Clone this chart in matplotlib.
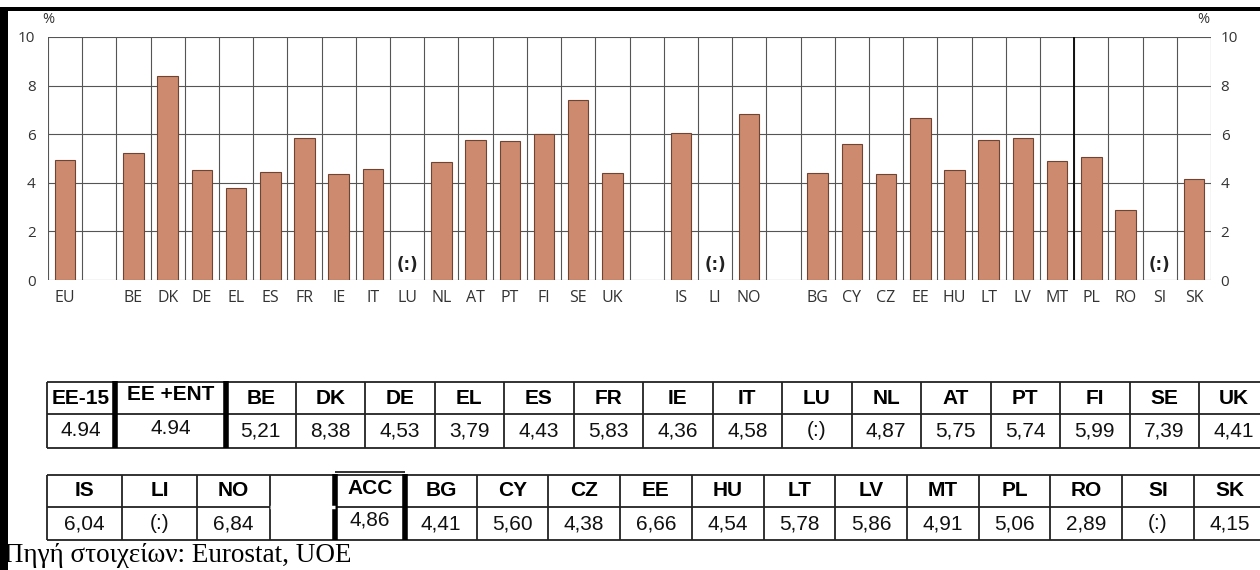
import numpy as np
import matplotlib
matplotlib.use("Agg")
import matplotlib.pyplot as plt

# chart slots ('' = empty slot)
slots = ["EU", "", "BE", "DK", "DE", "EL", "ES", "FR", "IE", "IT", "LU", "NL", "AT", "PT", "FI", "SE", "UK",
         "", "IS", "LI", "NO", "",
         "BG", "CY", "CZ", "EE", "HU", "LT", "LV", "MT", "PL", "RO", "SI", "SK"]
# None = not available (:)
slot_values = [4.94, None, 5.21, 8.38, 4.53, 3.79, 4.43, 5.83, 4.36, 4.58, None, 4.87, 5.75, 5.74, 5.99, 7.39, 4.41,
               None, 6.04, None, 6.84, None,
               4.41, 5.60, 4.38, 6.66, 4.54, 5.78, 5.86, 4.91, 5.06, 2.89, None, 4.15]
missing = ["LU", "LI", "SI"]

# tables
table1_head = ["EE-15", "EE +ENT", "BE", "DK", "DE", "EL", "ES", "FR", "IE", "IT", "LU", "NL", "AT", "PT", "FI", "SE", "UK"]
table1_vals = ["4.94", "4.94", "5,21", "8,38", "4,53", "3,79", "4,43", "5,83", "4,36", "4,58", "(:)", "4,87",
               "5,75", "5,74", "5,99", "7,39", "4,41"]
table2_head = ["IS", "LI", "NO", "", "ACC", "BG", "CY", "CZ", "EE", "HU", "LT", "LV", "MT", "PL", "RO", "SI", "SK"]
table2_vals = ["6,04", "(:)", "6,84", "", "4,86", "4,41", "5,60", "4,38", "6,66", "4,54", "5,78", "5,86",
               "4,91", "5,06", "2,89", "(:)", "4,15"]

W, H = 1260, 570
fig = plt.figure(figsize=(12.6, 5.7), dpi=100)

# ---- bar chart ----
x0, x1, y0, y1 = 48, 1211, 37, 280
ax = fig.add_axes([x0 / W, 1 - y1 / H, (x1 - x0) / W, (y1 - y0) / H])
n = len(slots)
xs = np.arange(n) + 0.5
heights = [v if v is not None else 0 for v in slot_values]
mask = [v is not None for v in slot_values]
ax.bar(xs[mask], np.array(heights)[mask], width=0.6, color="#CD8A6E", edgecolor="#6e4535", linewidth=0.8, zorder=3)

for i in range(n + 1):
    ax.axvline(i, color="#555555", lw=0.8, zorder=1)
ax.axvline(30, color="#111111", lw=1.4, zorder=2)
for yv in range(0, 11, 2):
    ax.axhline(yv, color="#555555", lw=0.8, zorder=1)

for i, lab in enumerate(slots):
    if lab in missing:
        ax.text(i + 0.5, 0.6, "(:)", ha="center", va="center", fontsize=12, fontweight="bold", color="#222222")

ax.set_xlim(0, n)
ax.set_ylim(0, 10)
ax.set_xticks(xs)
ax.set_xticklabels(slots, fontsize=11.5, color="#333333", family="Open Sans")
ax.set_yticks(range(0, 11, 2))
ax.set_yticklabels([str(v) for v in range(0, 11, 2)], fontsize=11, color="#333333", family="Open Sans")
ax.tick_params(axis="both", length=0)
ax.tick_params(axis="x", pad=7)
ax.tick_params(axis="y", pad=9)
for s in ax.spines.values():
    s.set_visible(False)

axr = ax.twinx()
axr.set_ylim(0, 10)
axr.set_yticks(range(0, 11, 2))
axr.set_yticklabels([str(v) for v in range(0, 11, 2)], fontsize=11, color="#333333", family="Open Sans")
axr.tick_params(axis="y", length=0, pad=7)
for s in axr.spines.values():
    s.set_visible(False)

# ---- overlay for tables and frame ----
ov = fig.add_axes([0, 0, 1, 1], facecolor="none")
ov.set_xlim(0, W)
ov.set_ylim(H, 0)
ov.axis("off")

ov.text(42, 27, "%", fontsize=10.5, color="#333333", family="Open Sans", ha="left", va="bottom")
ov.text(1209, 27, "%", fontsize=10.5, color="#333333", family="Open Sans", ha="right", va="bottom")

# frame
ov.fill_between([0, W], 7, 11, color="black", lw=0)
ov.fill_between([0, 8], 7, H, color="black", lw=0)


def draw_table(edges, top, mid, bot, heads, vals, thick, raised):
    ov.hlines([top, mid, bot], edges[0], edges[-1], color="#222222", lw=1.3)
    for k, e in enumerate(edges):
        if k in thick:
            ov.vlines(e, top - 1, bot, color="black", lw=4)
        else:
            ov.vlines(e, top, bot, color="#222222", lw=1.3)
    for k, (h, v) in enumerate(zip(heads, vals)):
        cx = (edges[k] + edges[k + 1]) / 2
        dy = -3 if k in raised else 0
        ov.text(cx, (top + mid) / 2 + dy, h, ha="center", va="center", fontsize=15,
                fontweight="bold", family="Liberation Sans", color="black")
        ov.text(cx, (mid + bot) / 2 + dy, v, ha="center", va="center", fontsize=15,
                family="Liberation Sans", color="#111111")


edges1 = [47, 115, 226] + [226 + 69.5 * k for k in range(1, 16)]
draw_table(edges1, 382, 414, 448, table1_head, table1_vals, thick=[1, 2], raised=[1])

edges2 = [47, 122, 197, 270, 335, 405] + [405 + 71.7 * k for k in range(1, 13)]
draw_table(edges2, 475, 507, 540, table2_head, table2_vals, thick=[4, 5], raised=[4])
ov.hlines(472, 335, 405, color="#222222", lw=1.3)
# empty cell has no middle line
ov.hlines(507, 270, 335, color="white", lw=2.5)

ov.text(4, 556, "Πηγή στοιχείων: Eurostat, UOE", fontsize=19.5, family="Liberation Serif",
        ha="left", va="center", color="black")

fig.savefig("out.png", dpi=100)
